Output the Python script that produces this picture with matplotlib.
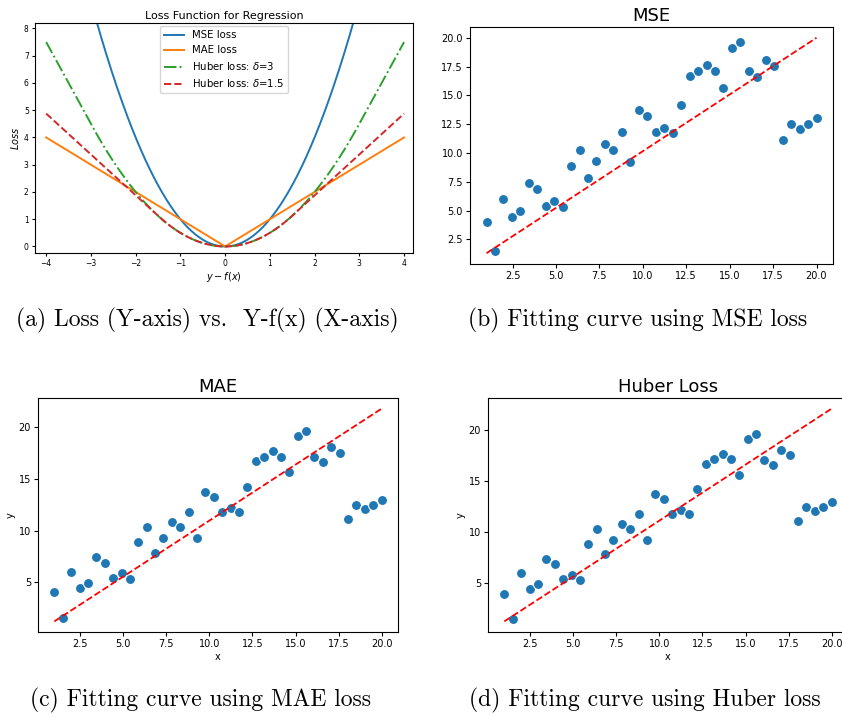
import numpy as np
import matplotlib
matplotlib.use("Agg")
import matplotlib.pyplot as plt

# scatter data (same points in all three fit panels)
x_pts = [1.0, 1.49, 1.97, 2.46, 2.95, 3.44, 3.92, 4.41, 4.9, 5.38,
         5.87, 6.36, 6.85, 7.33, 7.82, 8.31, 8.79, 9.28, 9.77, 10.26,
         10.74, 11.23, 11.72, 12.21, 12.69, 13.18, 13.67, 14.15, 14.64, 15.13,
         15.62, 16.1, 16.59, 17.08, 17.56, 18.05, 18.54, 19.03, 19.51, 20.0]
y_pts = [4.0, 1.5, 6.0, 4.45, 4.95, 7.4, 6.9, 5.4, 5.85, 5.35,
         8.9, 10.3, 7.85, 9.3, 10.8, 10.3, 11.8, 9.25, 13.75, 13.25,
         11.8, 12.2, 11.75, 14.2, 16.7, 17.15, 17.65, 17.15, 15.65, 19.15,
         19.6, 17.1, 16.6, 18.1, 17.55, 11.1, 12.5, 12.05, 12.5, 13.0]

# fitted lines (slope, intercept)
fit_titles = ["MSE", "MAE", "Huber Loss"]
fit_slope = [0.984, 1.084, 1.095]
fit_intercept = [0.32, 0.12, 0.2]

# loss curves
deltas = [3, 1.5]
captions = ["(a) Loss (Y-axis) vs.  Y-f(x) (X-axis)",
            "(b) Fitting curve using MSE loss",
            "(c) Fitting curve using MAE loss",
            "(d) Fitting curve using Huber loss"]

W, H = 842, 717
fig = plt.figure(figsize=(W / 100, H / 100), dpi=100)


def box(l, t, r, b):
    return [l / W, 1 - b / H, (r - l) / W, (b - t) / H]


def huber(e, d):
    a = np.abs(e)
    return np.where(a <= d, 0.5 * e ** 2, d * a - 0.5 * d ** 2)


# (a) loss functions
ax = fig.add_axes(box(35, 23, 413, 253))
e = np.linspace(-4, 4, 401)
ax.plot(e, e ** 2, color="#1f77b4", lw=1.4, label="MSE loss")
ax.plot(e, np.abs(e), color="#ff7f0e", lw=1.4, label="MAE loss")
ax.plot(e, huber(e, deltas[0]), color="#2ca02c", lw=1.4, ls="-.",
        label=r"Huber loss: $\delta$=3")
ax.plot(e, huber(e, deltas[1]), color="#d62728", lw=1.4, ls="--",
        label=r"Huber loss: $\delta$=1.5")
ax.set_xlim(-4.25, 4.2)
ax.set_ylim(-0.24, 8.2)
ax.set_title("Loss Function for Regression", fontsize=8, pad=3)
ax.set_xlabel(r"$y - f(x)$", fontsize=7, labelpad=1)
ax.set_ylabel(r"$Loss$", fontsize=7, labelpad=2)
ax.tick_params(labelsize=5.5, length=2.5, pad=2)
ax.legend(loc="upper center", fontsize=7.3, handlelength=2.0,
          borderaxespad=0.3)

# (b)-(d) fitting panels
boxes = [box(470, 27, 833, 264), box(38, 398, 398, 632), box(488, 398, 848, 632)]
xa = np.array(x_pts)
for i, (title, k, c) in enumerate(zip(fit_titles, fit_slope, fit_intercept)):
    ax = fig.add_axes(boxes[i])
    ax.scatter(x_pts, y_pts, s=52, color="#1f77b4", edgecolor="white", lw=0.8, zorder=2)
    ax.plot(xa, k * xa + c, color="red", ls="--", lw=1.3, zorder=3)
    ax.set_title(title, fontsize=13, pad=4)
    ax.tick_params(labelsize=7, length=3, pad=2)
    ax.set_xticks([2.5, 5.0, 7.5, 10.0, 12.5, 15.0, 17.5, 20.0])
    if i == 0:
        ax.set_yticks([2.5, 5.0, 7.5, 10.0, 12.5, 15.0, 17.5, 20.0])
    else:
        ax.set_yticks([5, 10, 15, 20])
        ax.set_xlabel("x", fontsize=7, labelpad=2)
        ax.set_ylabel("y", fontsize=7, labelpad=2)

# captions
cap_pos = [(207, 320), (638, 320), (200, 700), (645, 700)]
for text, (cx, cy) in zip(captions, cap_pos):
    fig.text(cx / W, 1 - cy / H, text, family="cmr10", fontsize=17,
             ha="center", va="center")

fig.savefig("out.png", dpi=100)
